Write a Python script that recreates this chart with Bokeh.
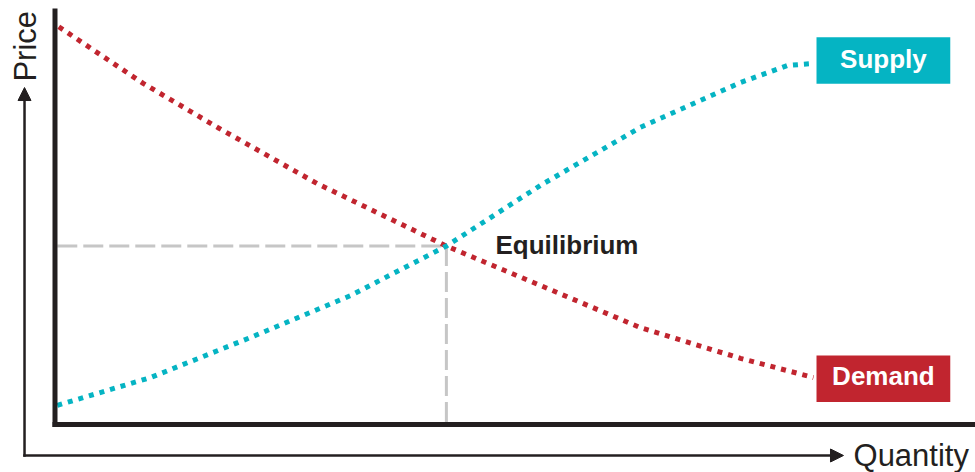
import math
from bokeh.plotting import figure
from bokeh.models import Range1d, Arrow, NormalHead, ColumnDataSource
from bokeh.core.properties import value
from bokeh.embed import file_html
from bokeh.resources import INLINE

# ---- data (quantity / price units, 0..100) ----
demand_q = [0.5, 11.6, 21.4, 34.5, 51.5, 63.9, 77.0, 90.2, 99.8]
demand_p = [95.6, 82.0, 71.4, 57.9, 42.9, 33.4, 23.3, 15.9, 11.3]

supply_q = [0.3, 12.6, 25.7, 38.9, 51.5, 63.9, 77.0, 90.2, 96.4, 99.8]
supply_p = [4.6, 11.3, 20.9, 31.0, 42.9, 57.5, 71.4, 82.2, 86.3, 86.8]

equilibrium_q = 51.5
equilibrium_p = 42.9

label_names = ["Supply", "Demand"]
label_box_left = [100.2, 100.2]
label_box_right = [117.8, 117.8]
label_box_top = [93.1, 16.6]
label_box_bottom = [81.9, 5.4]
label_text_q = [109.0, 109.0]
label_text_p = [87.86, 11.54]
label_colors = ["#05b4c3", "#c1252f"]

axis_x_title = "Quantity"
axis_y_title = "Price"
equilibrium_text = "Equilibrium"

INK = "#231f20"
FONT = value("Liberation Sans")

p = figure(width=975, height=472, output_backend="svg", toolbar_location=None,
           x_axis_type=None, y_axis_type=None,
           x_range=Range1d(-7.171, 121.12), y_range=Range1d(-11.54, 101.92),
           min_border=0, min_border_left=0, min_border_right=0,
           min_border_top=0, min_border_bottom=0)
p.grid.visible = False
p.outline_line_color = None
p.background_fill_color = "white"
p.border_fill_color = "white"

# equilibrium guides
p.line([0.3, equilibrium_q], [equilibrium_p, equilibrium_p], line_color="#c6c6c6",
       line_width=3, line_dash="20 6")
p.line([equilibrium_q, equilibrium_q], [equilibrium_p, 0], line_color="#c6c6c6",
       line_width=3, line_dash="20 6")

# curves
p.line(demand_q, demand_p, line_color="#c1252f", line_width=5, line_dash="5 6")
p.line(supply_q, supply_p, line_color="#05b4c3", line_width=5, line_dash="5 6")

# inner axes
p.line([0.0, 0.0], [-0.6, 100.0], line_color=INK, line_width=5)
p.line([-0.33, 121.12], [0.0, 0.0], line_color=INK, line_width=5)

# outer arrows
p.add_layout(Arrow(end=NormalHead(size=13, fill_color=INK, line_color=INK, line_width=1),
                   x_start=-4.18, y_start=-7.45, x_end=103.75, y_end=-7.45,
                   line_color=INK, line_width=2.5))
p.add_layout(Arrow(end=NormalHead(size=13, fill_color=INK, line_color=INK, line_width=1),
                   x_start=-4.01, y_start=-7.75, x_end=-4.01, y_end=81.0,
                   line_color=INK, line_width=2.5))

# label boxes
box_src = ColumnDataSource(dict(left=label_box_left, right=label_box_right,
                                top=label_box_top, bottom=label_box_bottom,
                                color=label_colors, tx=label_text_q, ty=label_text_p,
                                text=label_names))
p.quad(left="left", right="right", top="top", bottom="bottom", fill_color="color",
       line_color=None, source=box_src)
p.text(x="tx", y="ty", text="text", source=box_src, text_color="white",
       text_font=FONT, text_font_style="bold", text_font_size="26px",
       text_align="center", text_baseline="middle")

# equilibrium label
p.text(x=[57.96], y=[43.22], text=[equilibrium_text], text_color=INK,
       text_font=FONT, text_font_style="bold", text_font_size="26px",
       text_align="left", text_baseline="middle")

# axis titles
p.text(x=[105.07], y=[-7.45], text=[axis_x_title], text_color=INK,
       text_font=FONT, text_font_size="31px",
       text_align="left", text_baseline="middle")
p.text(x=[-3.82], y=[90.91], text=[axis_y_title], text_color=INK, angle=math.pi / 2,
       text_font=FONT, text_font_size="31px",
       text_align="center", text_baseline="middle")

open("out.html", "w").write(file_html(p, INLINE))
